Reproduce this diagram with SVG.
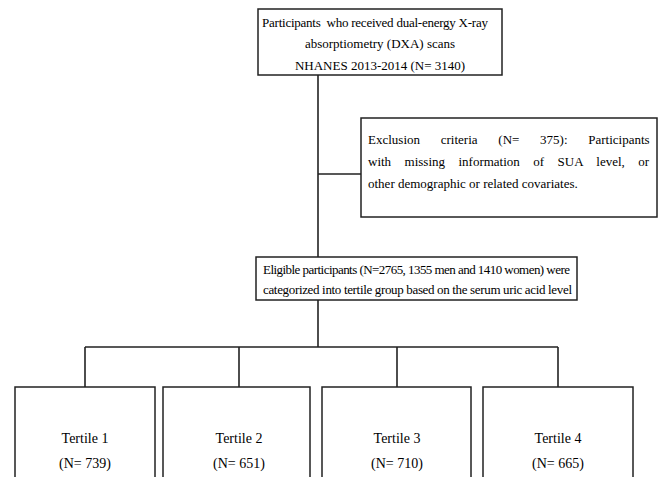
<svg xmlns="http://www.w3.org/2000/svg" width="660" height="477" viewBox="0 0 660 477">
<style>
.box{fill:#fff;stroke:#222;stroke-width:1.5}
.ln{stroke:#222;stroke-width:1.6;fill:none}
text{font-family:"Liberation Serif","Times New Roman",serif;font-size:13px;fill:#000}
.c{text-anchor:middle}
.t{font-size:14px}
</style>
<rect width="660" height="477" fill="#fff"/>
<g id="connectors">
<path class="ln" d="M318,75V257M318,174H361M318,300V347M85,347H558M85,347V387M239,347V387M397,347V387M558,347V387"/>
</g>
<g id="n-participants">
<rect class="box" x="258" y="9" width="244" height="66"/>
<text x="262" y="27" textLength="226" lengthAdjust="spacing" style="white-space:pre">Participants  who received dual-energy X-ray</text>
<text class="c" x="380" y="48">absorptiometry (DXA) scans</text>
<text class="c" x="380" y="70">NHANES 2013-2014 (N= 3140)</text>
</g>
<g id="n-exclusion">
<rect class="box" x="361" y="118" width="296" height="99"/>
<text x="368" y="144" style="word-spacing:17.5px">Exclusion criteria (N= 375): Participants</text>
<text x="368" y="166" style="word-spacing:10.2px">with missing information of SUA level, or</text>
<text x="368" y="188">other demographic or related covariates.</text>
</g>
<g id="n-eligible">
<rect class="box" x="256" y="257" width="321" height="43"/>
<text x="263" y="274" textLength="307" lengthAdjust="spacing">Eligible participants (N=2765, 1355 men and 1410 women) were</text>
<text x="263" y="294" textLength="309" lengthAdjust="spacing">categorized into tertile group based on the serum uric acid level</text>
</g>
<g id="n-t1">
<rect class="box" x="15" y="387" width="140" height="100"/>
<text class="c t" x="85" y="443">Tertile 1</text>
<text class="c t" x="85" y="468">(N= 739)</text>
</g>
<g id="n-t2">
<rect class="box" x="163" y="387" width="147" height="100"/>
<text class="c t" x="239" y="443">Tertile 2</text>
<text class="c t" x="239" y="468">(N= 651)</text>
</g>
<g id="n-t3">
<rect class="box" x="322" y="387" width="149" height="100"/>
<text class="c t" x="397" y="443">Tertile 3</text>
<text class="c t" x="397" y="468">(N= 710)</text>
</g>
<g id="n-t4">
<rect class="box" x="483" y="387" width="150" height="100"/>
<text class="c t" x="558" y="443">Tertile 4</text>
<text class="c t" x="558" y="468">(N= 665)</text>
</g>
</svg>
